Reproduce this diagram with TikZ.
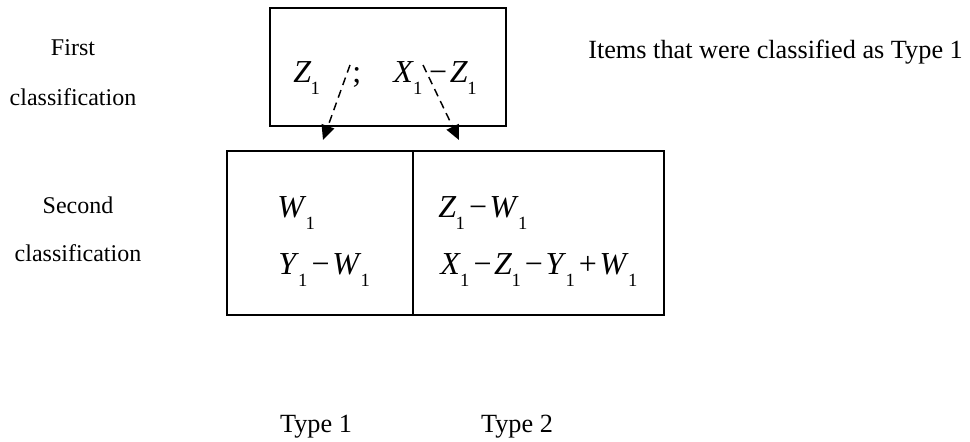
\documentclass[tikz,border=0pt]{standalone}
\usepackage{fontspec}
\setmainfont{Liberation Serif}
\usetikzlibrary{arrows.meta}
\newcommand\vs[1]{\textit{#1}\kern-0.5pt\raisebox{-9pt}{\fontsize{14pt}{14pt}\selectfont 1}}
\newcommand\mn{\kern3pt\textminus\kern2pt}
\newcommand\pl{\kern3pt+\kern2pt}
\begin{document}
\begin{tikzpicture}[x=0.75pt,y=-0.75pt,
  lbl/.style={font=\fontsize{18pt}{20pt}\selectfont, inner sep=0pt},
  lblb/.style={font=\fontsize{19.7pt}{22pt}\selectfont, inner sep=0pt},
  mth/.style={font=\fontsize{24pt}{26pt}\selectfont, inner sep=0pt, anchor=base west},
  boxx/.style={draw, line width=1.5pt, inner sep=0pt},
  dasharrow/.style={line width=1.1pt, dash pattern=on 6pt off 4pt, -{Triangle[length=11pt,width=10pt]}}]
\useasboundingbox (0,0) rectangle (970,442);
% boxes
\node[boxx, minimum width=236*0.75pt, minimum height=118*0.75pt] (top) at (388,67) {};
\node[boxx, minimum width=437*0.75pt, minimum height=164*0.75pt] (bot) at (445.5,233) {};
\draw[line width=1pt] (413,151) -- (413,315);
% top texts
\node[mth] (z1) at (293,83) {\vs{Z}};
\node[mth] (semi) at (352,83) {;};
\node[mth] (xz) at (393,83) {\vs{X}\kern5pt\textminus\kern2pt\vs{Z}};
% bottom texts
\node[mth] (w1) at (277,217) {\vs{W}};
\node[mth] (yw) at (278,274) {\vs{Y}\mn\vs{W}};
\node[mth] (zw) at (438,217) {\vs{Z}\mn\vs{W}};
\node[mth] (xzyw) at (440,274) {\vs{X}\mn\vs{Z}\mn\vs{Y}\pl\vs{W}};
% arrows
\coordinate (a1s) at (350,65);
\coordinate (a1e) at (323,140);
\coordinate (a2s) at (423,65);
\coordinate (a2e) at (459,140);
\draw[dasharrow] (a1s) -- (a1e);
\draw[dasharrow] (a2s) -- (a2e);
% side labels
\node[lbl] (f1) at (73,48) {First};
\node[lbl] (f2) at (73,97) {classification};
\node[lbl] (s1) at (78,205) {Second};
\node[lbl] (s2) at (78,253) {classification};
\node[lblb, anchor=west] (items) at (588,52) {Items that were classified as Type 1};
\node[lblb] (t1) at (316,427) {Type 1};
\node[lblb] (t2) at (517,427) {Type 2};
\end{tikzpicture}
\end{document}
